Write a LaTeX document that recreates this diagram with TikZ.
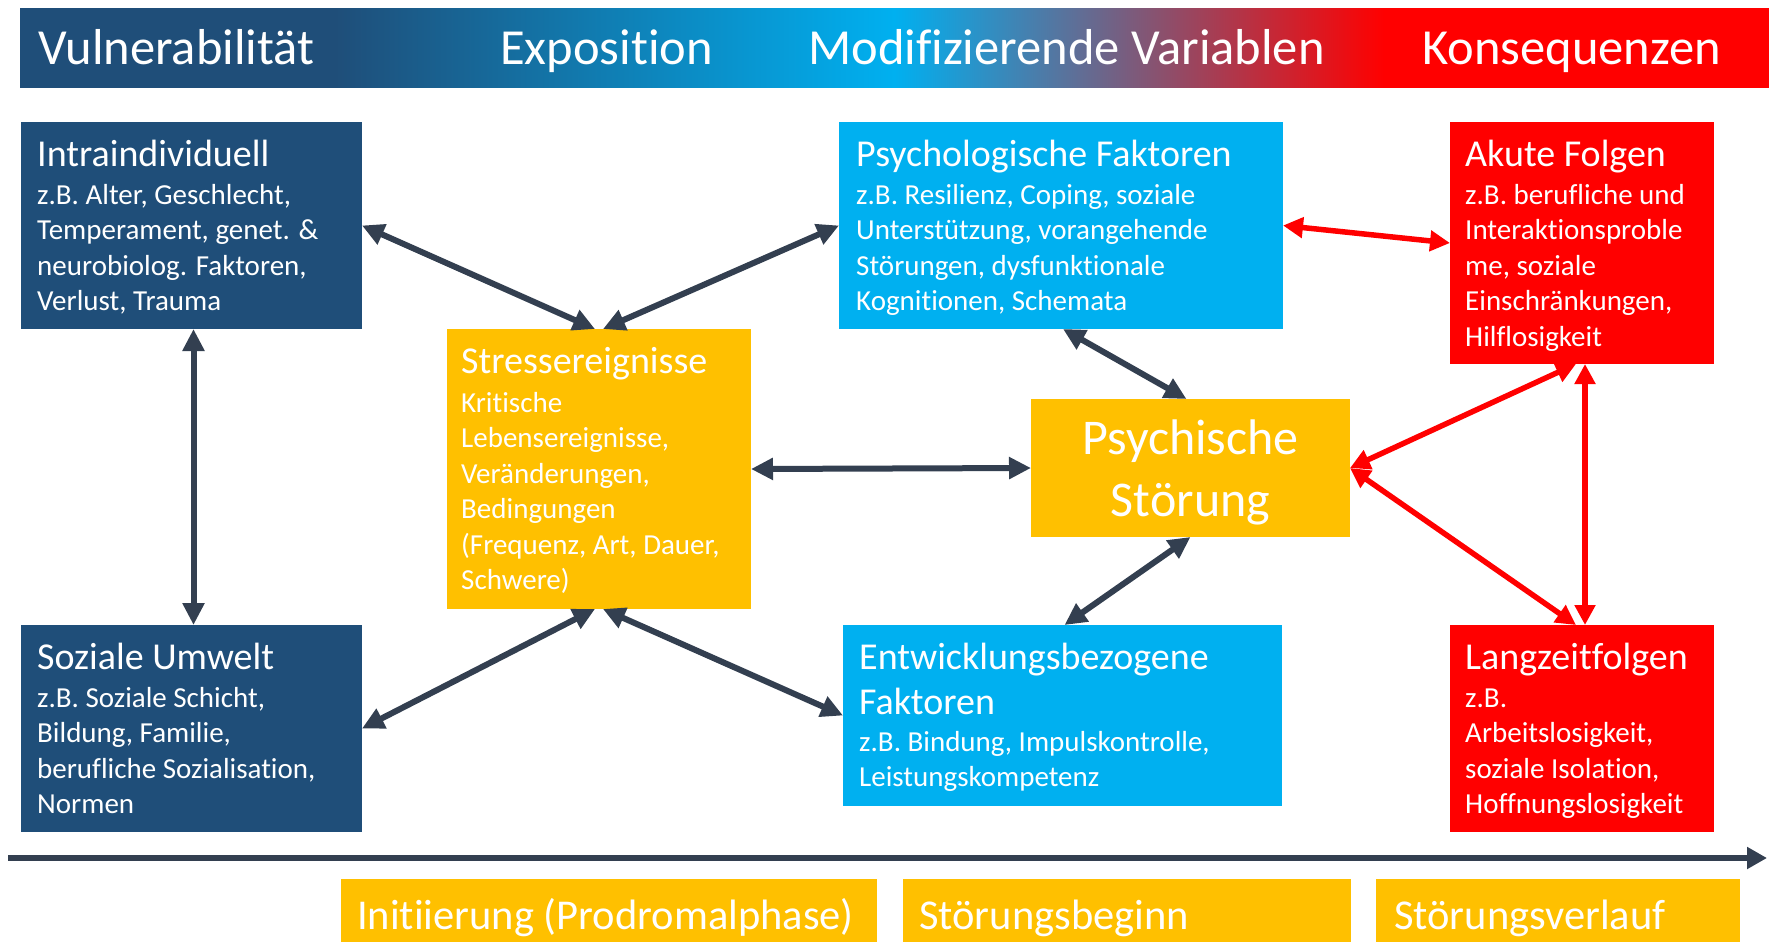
\documentclass[tikz,border=0pt]{standalone}
\usepackage{fontspec}
\setmainfont{Carlito}[Ligatures={NoCommon}]
\usetikzlibrary{arrows.meta,calc}
\definecolor{dblue}{RGB}{31,78,121}
\definecolor{cyanc}{RGB}{0,176,240}
\definecolor{redc}{RGB}{255,0,0}
\definecolor{yelc}{RGB}{255,192,0}
\definecolor{arrc}{RGB}{51,63,80}
\pgfdeclarehorizontalshading{hdrshade}{100bp}{color(0bp)=(dblue); color(34bp)=(dblue); color(50bp)=(cyanc); color(64bp)=(redc); color(100bp)=(redc)}
\newcommand\tstrut{\rule{0pt}{30pt}}
\newcommand\bstrut{\rule{0pt}{24pt}}
\begin{document}
\begin{tikzpicture}[x=1pt,y=-1pt,
  boxn/.style={inner sep=0pt, outer sep=0pt, anchor=north west},
  ttl/.style={text=white, inner sep=0pt, anchor=north west, align=left, font=\fontsize{38}{45}\selectfont},
  bdy/.style={text=white, inner sep=0pt, anchor=north west, align=left, font=\fontsize{29}{35.5}\selectfont},
  hdrt/.style={text=white, inner sep=0pt, anchor=base west, font=\fontsize{50.5}{60}\selectfont},
  btxt/.style={text=white, inner sep=0pt, anchor=base west, font=\fontsize{42.5}{50}\selectfont},
  darr/.style={draw=arrc, line width=6pt, {Triangle[length=22pt,width=21pt]}-{Triangle[length=22pt,width=21pt]}},
  rarr/.style={draw=redc, line width=5.5pt, {Triangle[length=20pt,width=20pt]}-{Triangle[length=20pt,width=20pt]}},
  tlarr/.style={draw=arrc, line width=6pt, -{Triangle[length=20pt,width=21pt]}}
]
\useasboundingbox (0,0) rectangle (1769,942);

% header
\node[boxn, shade, shading=hdrshade, minimum width=1749pt, minimum height=78pt] (hdr) at (20,9) {};
\node[hdrt] (h1) at (38,64) {Vulnerabilität};
\node[hdrt] (h2) at (500,64) {Exposition};
\node[hdrt] (h3) at (808,64) {Modifizierende Variablen};
\node[hdrt] (h4) at (1422,64) {Konsequenzen};

% boxes
\node[boxn, fill=dblue, minimum width=341pt, minimum height=207pt] (intra) at (21,122) {};
\node[boxn, fill=dblue, minimum width=341pt, minimum height=207pt] (soz) at (21,625) {};
\node[boxn, fill=yelc, minimum width=304pt, minimum height=280pt] (stress) at (447,329) {};
\node[boxn, fill=cyanc, minimum width=444pt, minimum height=207pt] (psyf) at (839,122) {};
\node[boxn, fill=yelc, minimum width=319pt, minimum height=138pt] (stoer) at (1031,399) {};
\node[boxn, fill=cyanc, minimum width=439pt, minimum height=181pt] (entw) at (843,625) {};
\node[boxn, fill=redc, minimum width=264pt, minimum height=242pt] (akut) at (1450,122) {};
\node[boxn, fill=redc, minimum width=264pt, minimum height=207pt] (lang) at (1450,625) {};

% texts
\node[ttl] (intra-t) at ([shift={(16,14)}]intra.north west) {\tstrut Intraindividuell};
\node[bdy] (intra-b) at ([shift={(16,58)}]intra.north west) {\bstrut z.B. Alter, Geschlecht,\\Temperament, genet. \&\\neurobiolog. Faktoren,\\Verlust, Trauma};

\node[ttl] (soz-t) at ([shift={(16,14)}]soz.north west) {\tstrut Soziale Umwelt};
\node[bdy] (soz-b) at ([shift={(16,58)}]soz.north west) {\bstrut z.B. Soziale Schicht,\\Bildung, Familie,\\berufliche Sozialisation,\\Normen};

\node[ttl] (stress-t) at ([shift={(14,14)}]stress.north west) {\tstrut Stressereignisse};
\node[bdy] (stress-b) at ([shift={(14,59)}]stress.north west) {\bstrut Kritische\\Lebensereignisse,\\Veränderungen,\\Bedingungen\\(Frequenz, Art, Dauer,\\Schwere)};

\node[ttl] (psyf-t) at ([shift={(17,14)}]psyf.north west) {\tstrut Psychologische Faktoren};
\node[bdy] (psyf-b) at ([shift={(17,58)}]psyf.north west) {\bstrut z.B. Resilienz, Coping, soziale\\Unterstützung, vorangehende\\Störungen, dysfunktionale\\Kognitionen, Schemata};

\node[text=white, inner sep=0pt, align=center, font=\fontsize{50}{62}\selectfont] (stoer-t) at ([yshift=-4pt]stoer.center) {Psychische\\Störung};

\node[ttl] (entw-t) at ([shift={(16,14)}]entw.north west) {\tstrut Entwicklungsbezogene\\Faktoren};
\node[bdy] (entw-b) at ([shift={(16,102)}]entw.north west) {\bstrut z.B. Bindung, Impulskontrolle,\\Leistungskompetenz};

\node[ttl] (akut-t) at ([shift={(15,14)}]akut.north west) {\tstrut Akute Folgen};
\node[bdy] (akut-b) at ([shift={(15,58)}]akut.north west) {\bstrut z.B. berufliche und\\Interaktionsproble\\me, soziale\\Einschränkungen,\\Hilflosigkeit};

\node[ttl] (lang-t) at ([shift={(15,14)}]lang.north west) {\tstrut Langzeitfolgen};
\node[bdy] (lang-b) at ([shift={(15,58)}]lang.north west) {\bstrut z.B.\\Arbeitslosigkeit,\\soziale Isolation,\\Hoffnungslosigkeit};

% dark connectors
\draw[darr] (intra.east) -- ([xshift=-4pt]stress.north);
\draw[darr] (psyf.west) -- ([xshift=4pt]stress.north);
\draw[darr] ([xshift=2pt]intra.south) -- ([xshift=2pt]soz.north);
\draw[darr] (soz.east) -- ([xshift=-4pt]stress.south);
\draw[darr] ([xshift=4pt]stress.south) -- (entw.west);
\draw[darr] (stress.east) -- (stoer.west);
\draw[darr] ([xshift=2pt]psyf.south) -- ([xshift=-4pt]stoer.north);
\draw[darr] ([xshift=2pt]entw.north) -- (stoer.south);

% red connectors
\draw[rarr] (psyf.east) -- (akut.west);
\draw[rarr] (stoer.east) -- ([xshift=-6pt]akut.south);
\draw[rarr] (stoer.east) -- ([xshift=-6pt]lang.north);
\draw[rarr] ([xshift=3pt]akut.south) -- ([xshift=3pt]lang.north);

% timeline
\coordinate (tl0) at (8,858);
\coordinate (tl1) at (1767,858);
\draw[tlarr] (tl0) -- (tl1);

% phases
\node[boxn, fill=yelc, minimum width=536pt, minimum height=63pt] (ph1) at (341,879) {};
\node[boxn, fill=yelc, minimum width=448pt, minimum height=63pt] (ph2) at (903,879) {};
\node[boxn, fill=yelc, minimum width=364pt, minimum height=63pt] (ph3) at (1376,879) {};
\node[btxt] (ph1-t) at ([shift={(16,50)}]ph1.north west) {Initiierung (Prodromalphase)};
\node[btxt] (ph2-t) at ([shift={(16,50)}]ph2.north west) {Störungsbeginn};
\node[btxt] (ph3-t) at ([shift={(18,50)}]ph3.north west) {Störungsverlauf};
\end{tikzpicture}
\end{document}
